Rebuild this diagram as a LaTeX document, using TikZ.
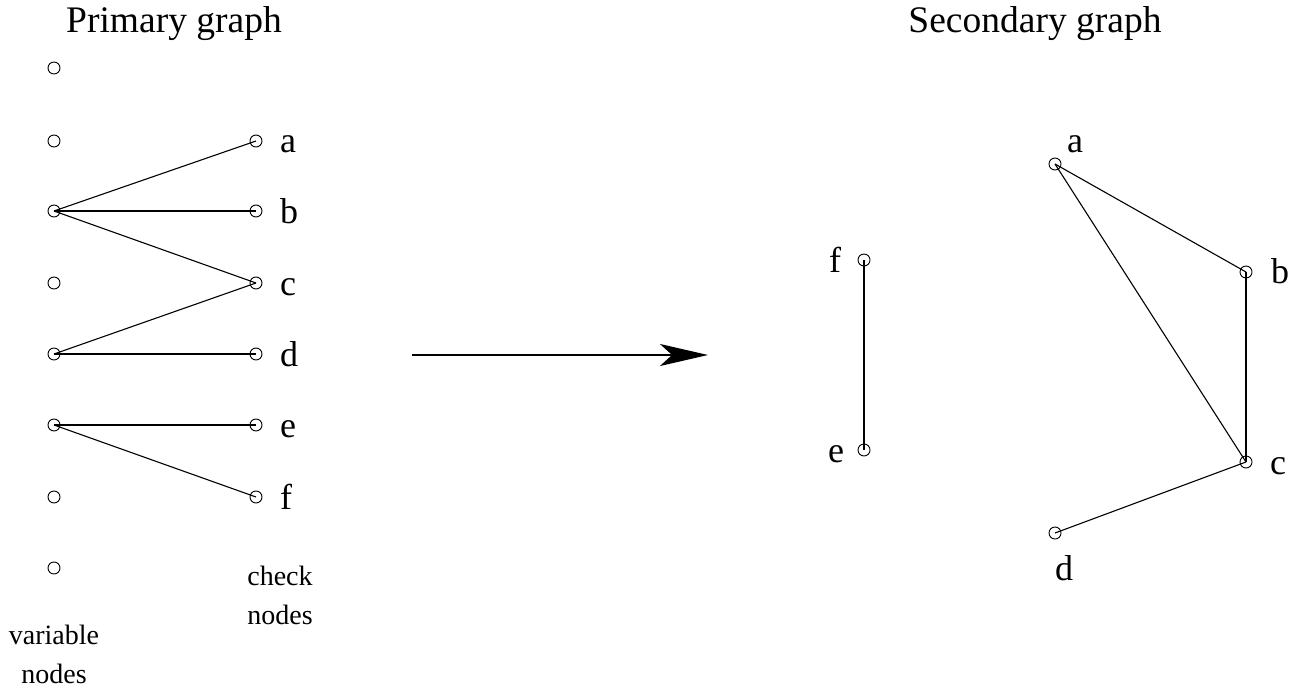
\documentclass[tikz,border=0pt]{standalone}
\usepackage{fontspec}
\setmainfont{Liberation Serif}
\usetikzlibrary{arrows.meta}
\begin{document}
\begin{tikzpicture}[x=1pt,y=-1pt,
  vnode/.style={circle,draw,line width=0.9pt,inner sep=0pt,minimum size=12pt},
  edge/.style={line width=1.1pt},
  lbl/.style={inner sep=0pt,anchor=base west,font=\fontsize{36}{40}\selectfont},
  ttl/.style={inner sep=0pt,anchor=base,font=\fontsize{37.5}{40}\selectfont},
  small/.style={inner sep=0pt,align=center,font=\fontsize{28}{39}\selectfont}]
\useasboundingbox (0,0) rectangle (1300,690);
% titles
\node[ttl] (t1) at (174,33) {Primary graph};
\node[ttl] (t2) at (1035,33) {Secondary graph};
% variable nodes
\foreach \i/\y in {1/68,2/141,3/211,4/283,5/354,6/425,7/497,8/568}
  \node[vnode] (v\i) at (54,\y) {};
% check nodes
\foreach \n/\y in {a/141,b/211,c/283,d/354,e/425,f/497}{
  \node[vnode] (c\n) at (256,\y) {};
  \node[lbl] (lc\n) at (280,\y+12) {\n};
}
\node[small] (chk) at (280,595) {check\\nodes};
\node[small] (var) at (54,654) {variable\\nodes};
% primary edges
\draw[edge] (v3.center) -- (ca.center);
\draw[edge] (v3.center) -- (cb.center);
\draw[edge] (v3.center) -- (cc.center);
\draw[edge] (v5.center) -- (cc.center);
\draw[edge] (v5.center) -- (cd.center);
\draw[edge] (v6.center) -- (ce.center);
\draw[edge] (v6.center) -- (cf.center);
% arrow
\coordinate (as) at (412,355);
\coordinate (ae) at (708,355);
\draw[line width=2pt,-{Stealth[length=48pt,width=22pt,inset=12pt]}] (as) -- (ae);
% secondary graph
\node[vnode] (sf) at (864,260) {};
\node[vnode] (se) at (864,450) {};
\node[vnode] (sa) at (1055,164) {};
\node[vnode] (sb) at (1246,272) {};
\node[vnode] (sc) at (1246,462) {};
\node[vnode] (sd) at (1055,533) {};
\node[lbl] (lsf) at (829,272) {f};
\node[lbl] (lse) at (828,462) {e};
\node[lbl] (lsa) at (1067,153) {a};
\node[lbl] (lsb) at (1271,283) {b};
\node[lbl] (lsc) at (1270,474) {c};
\node[lbl] (lsd) at (1055,580) {d};
\draw[edge] (sf.center) -- (se.center);
\draw[edge] (sa.center) -- (sb.center);
\draw[edge] (sa.center) -- (sc.center);
\draw[edge] (sb.center) -- (sc.center);
\draw[edge] (sc.center) -- (sd.center);
\end{tikzpicture}
\end{document}
